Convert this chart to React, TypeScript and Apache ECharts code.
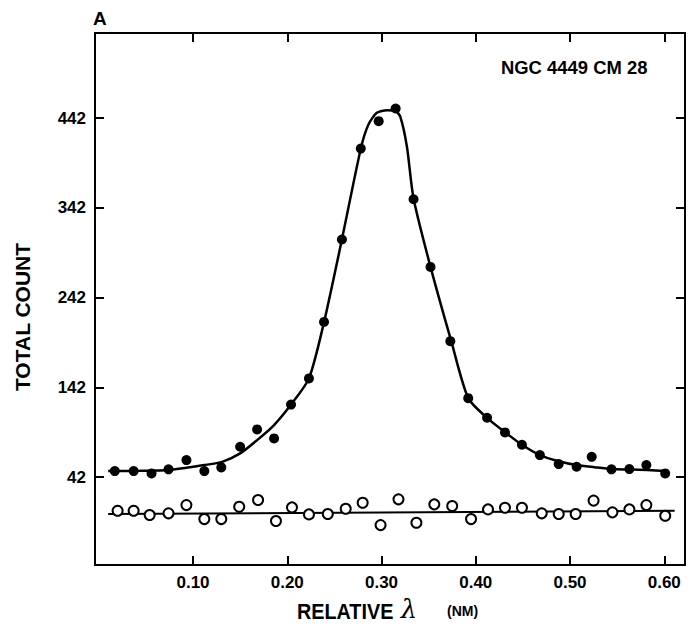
import React, { useEffect, useRef } from "react";
import * as echarts from "echarts";

// Filled circles (upper series): relative wavelength (nm), total count
const filledX = [0.017, 0.037, 0.056, 0.074, 0.093, 0.112, 0.130, 0.150, 0.168, 0.186, 0.204, 0.223, 0.239, 0.258, 0.278, 0.297, 0.315, 0.334, 0.352, 0.373, 0.392, 0.412, 0.431, 0.449, 0.468, 0.488, 0.507, 0.523, 0.544, 0.563, 0.581, 0.601];
const filledY = [48.7, 48.7, 46.1, 50.6, 60.9, 48.7, 52.8, 75.8, 95.1, 85.1, 122.8, 152.0, 215.0, 306.8, 408.2, 438.7, 452.8, 351.7, 276.3, 193.5, 130.0, 108.1, 91.8, 78.0, 66.5, 56.5, 53.5, 64.6, 50.6, 50.9, 55.4, 46.1];

// Open circles (lower series)
const openX = [0.020, 0.037, 0.054, 0.074, 0.093, 0.112, 0.130, 0.149, 0.169, 0.188, 0.205, 0.223, 0.243, 0.262, 0.280, 0.299, 0.318, 0.337, 0.356, 0.375, 0.395, 0.413, 0.431, 0.449, 0.470, 0.488, 0.506, 0.525, 0.545, 0.563, 0.581, 0.601];
const openY = [4.5, 4.5, -0.3, 1.6, 10.8, -4.8, -4.8, 8.9, 16.4, -7.0, 8.2, 0.4, 0.8, 6.7, 13.4, -11.5, 17.2, -8.9, 11.6, 9.7, -4.8, 6.0, 7.8, 7.8, 1.6, 0.8, 0.8, 15.8, 2.7, 6.0, 10.8, -1.1];

// Fitted curve through the filled points
const curveX = [0.010, 0.044, 0.074, 0.112, 0.131, 0.150, 0.168, 0.186, 0.204, 0.223, 0.239, 0.258, 0.278, 0.286, 0.295, 0.306, 0.315, 0.320, 0.327, 0.334, 0.352, 0.374, 0.392, 0.412, 0.431, 0.449, 0.468, 0.487, 0.507, 0.526, 0.544, 0.564, 0.582, 0.601];
const curveY = [48.7, 49.0, 49.8, 55.4, 59.0, 68.4, 83.2, 100.0, 122.8, 152.0, 214.7, 307.0, 408.0, 434.7, 448.0, 451.0, 450.0, 443.5, 410.0, 352.5, 276.3, 193.5, 130.0, 108.0, 92.0, 78.0, 66.5, 60.0, 55.4, 53.0, 51.0, 50.4, 49.8, 48.7];

// Background fit line
const baseX = [0.010, 0.611];
const baseY = [0.8, 4.5];

const xTicks = [0.1, 0.2, 0.3, 0.4, 0.5, 0.6];
const yTicks = [42, 142, 242, 342, 442];

const FONT = "'Liberation Sans', Arial, Helvetica, sans-serif";

export default function App() {
  const ref = useRef<HTMLDivElement>(null);
  useEffect(() => {
    if (!ref.current) return;
    const chart = echarts.init(ref.current, null, { renderer: "svg" });
    const axisLine = { show: true, onZero: false, lineStyle: { color: "#000", width: 2 } };
    const tickStyle = { color: "#000", width: 2 };
    const xRange = { min: -0.004, max: 0.622 };
    const yRange = { min: -56, max: 537 };
    chart.setOption({
      animation: false,
      backgroundColor: "#fff",
      grid: { left: 95, right: 6, top: 33, bottom: 59, containLabel: false, outerBoundsMode: "none" },
      xAxis: [
        {
          type: "value",
          position: "bottom",
          ...xRange,
          axisLine,
          axisTick: { show: true, inside: true, length: 9, lineStyle: tickStyle, customValues: xTicks },
          axisLabel: {
            customValues: xTicks,
            formatter: (v: number) => v.toFixed(2),
            color: "#000",
            fontSize: 17,
            fontWeight: "bold",
            fontFamily: FONT,
            margin: 9,
          },
          splitLine: { show: false },
        },
        {
          type: "value",
          position: "top",
          ...xRange,
          axisLine,
          axisTick: { show: true, inside: true, length: 9, lineStyle: tickStyle, customValues: xTicks },
          axisLabel: { show: false },
          splitLine: { show: false },
        },
      ],
      yAxis: [
        {
          type: "value",
          position: "left",
          ...yRange,
          axisLine,
          axisTick: { show: true, inside: true, length: 9, lineStyle: tickStyle, customValues: yTicks },
          axisLabel: {
            customValues: yTicks,
            color: "#000",
            fontSize: 17,
            fontWeight: "bold",
            fontFamily: FONT,
            margin: 9,
          },
          splitLine: { show: false },
        },
        {
          type: "value",
          position: "right",
          ...yRange,
          axisLine,
          axisTick: { show: true, inside: true, length: 9, lineStyle: tickStyle, customValues: yTicks },
          axisLabel: { show: false },
          splitLine: { show: false },
        },
      ],
      graphic: [
        {
          type: "text",
          x: 93,
          y: 9,
          style: { text: "A", fontSize: 19, fontWeight: "bold", fontFamily: FONT, fill: "#000" },
        },
        {
          type: "text",
          x: 501,
          y: 58,
          scaleX: 0.97,
          style: {
            text: "NGC 4449 CM 28",
            fontSize: 19,
            fontWeight: "bold",
            fontFamily: FONT,
            fill: "#000",
          },
        },
        {
          type: "text",
          x: 22,
          y: 317,
          rotation: Math.PI / 2,
          style: {
            text: "TOTAL COUNT",
            fontSize: 21,
            fontWeight: "bold",
            fontFamily: FONT,
            fill: "#000",
            align: "center",
            verticalAlign: "middle",
          },
        },
        {
          type: "text",
          x: 297,
          y: 611,
          scaleX: 0.9,
          style: {
            text: "RELATIVE",
            fontSize: 22,
            fontWeight: "bold",
            fontFamily: FONT,
            fill: "#000",
            align: "left",
            verticalAlign: "middle",
          },
        },
        {
          type: "text",
          x: 409,
          y: 609,
          style: {
            text: "λ",
            fontSize: 26,
            lineHeight: 26,
            fontStyle: "italic",
            fontFamily: "'DejaVu Serif', serif",
            fill: "#000",
            align: "center",
            verticalAlign: "middle",
          },
        },
        {
          type: "text",
          x: 447,
          y: 611,
          style: {
            text: "(NM)",
            fontSize: 14,
            fontWeight: "bold",
            fontFamily: FONT,
            fill: "#000",
            align: "left",
            verticalAlign: "middle",
          },
        },
      ],
      series: [
        {
          type: "line",
          data: curveX.map((x, i) => [x, curveY[i]]),
          smooth: 0.25,
          showSymbol: false,
          lineStyle: { color: "#000", width: 2.5 },
          z: 2,
        },
        {
          type: "line",
          data: baseX.map((x, i) => [x, baseY[i]]),
          showSymbol: false,
          lineStyle: { color: "#000", width: 2 },
          z: 2,
        },
        {
          type: "scatter",
          data: filledX.map((x, i) => [x, filledY[i]]),
          symbol: "circle",
          symbolSize: 10,
          itemStyle: { color: "#000", opacity: 1 },
          z: 3,
        },
        {
          type: "scatter",
          data: openX.map((x, i) => [x, openY[i]]),
          symbol: "circle",
          symbolSize: 10,
          itemStyle: { color: "#fff", borderColor: "#000", borderWidth: 2, opacity: 1 },
          z: 3,
        },
      ],
    });
    return () => chart.dispose();
  }, []);
  return (
    <div
      ref={ref}
      style={{ position: "fixed", left: 0, top: 0, width: 691, height: 624, background: "#fff" }}
    />
  );
}
